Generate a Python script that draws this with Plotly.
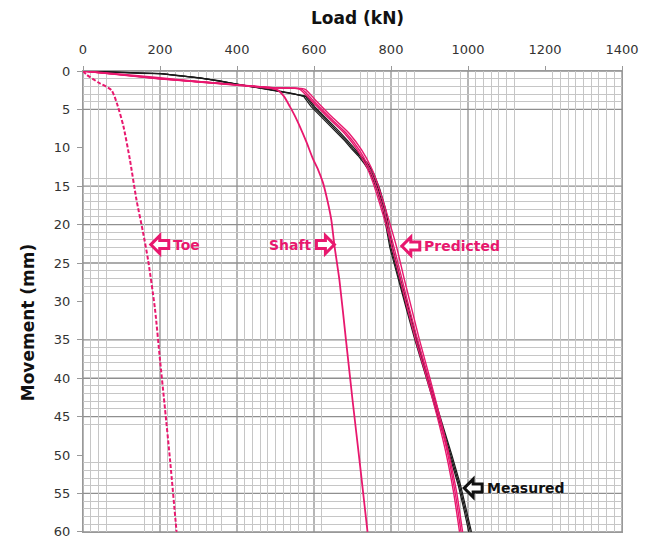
import plotly.graph_objects as go

# ---------------- data ----------------
toe_load = [0, 10, 40, 74, 88, 105, 122, 139, 156, 169, 187, 200, 213, 226, 243]
toe_mm = [0, 0.5, 1.5, 2.5, 4.2, 7.2, 11.6, 16.8, 21, 24.6, 31, 37.6, 44, 50.6, 60]

shaft_load = [0, 100, 200, 300, 400, 502, 522, 537, 550, 563, 580, 597, 611, 623, 635, 645, 653, 666, 683, 700, 720, 739]
shaft_mm = [0, 0.45, 0.9, 1.4, 1.85, 2.4, 3.3, 4.6, 5.8, 7.2, 9.2, 11.4, 12.9, 14.5, 16.9, 19.4, 22.7, 27.2, 35, 42.8, 51.5, 60]

pred_mm = [0, 0.5, 1.0, 1.4, 1.8, 2.2, 2.35, 3.8, 6.0, 8.1, 10.3, 12.5, 14.5, 17, 20, 23, 27, 31, 35, 40, 45, 50, 55, 60]
pred1_load = [0, 100, 200, 300, 400, 500, 568, 597, 640, 684, 718, 742, 758, 774, 792, 808, 828, 848, 869, 897, 924, 948, 967, 982]
pred2_load = [0, 95, 195, 295, 395, 495, 576, 604, 647, 691, 724, 748, 764, 780, 798, 815, 834, 854, 874, 901, 927, 951, 971, 986]
pred3_load = [0, 104, 204, 304, 404, 504, 562, 592, 635, 679, 713, 737, 753, 769, 787, 803, 823, 843, 864, 893, 920, 944, 963, 978]

meas_mm = [0, 0.1, 0.2, 0.3, 0.35, 0.6, 0.9, 1.25, 1.7, 2.1, 2.5, 2.9, 3.3, 4.6, 5.7, 6.8, 7.9, 9.1, 10.1, 11.0, 12.1, 13.4, 15.4, 18, 23, 27, 31, 35, 40, 45, 50, 54, 57, 60]
meas1_load = [0, 48, 102, 148, 203, 247, 302, 348, 403, 447, 493, 538, 578, 597, 619, 640, 662, 684, 701, 718, 736, 752, 767, 782, 800, 821, 842, 865, 894, 925, 955, 978, 992, 1006]
meas2_load = [0, 52, 97, 153, 198, 253, 297, 353, 398, 452, 497, 543, 573, 592, 614, 636, 657, 680, 697, 714, 731, 748, 763, 779, 797, 818, 840, 862, 891, 922, 952, 975, 989, 1002]
meas3_load = [0, 45, 105, 145, 206, 244, 305, 345, 406, 444, 490, 535, 582, 601, 623, 644, 666, 688, 705, 722, 740, 756, 771, 786, 804, 824, 845, 868, 897, 928, 958, 981, 995, 1009]

x_ticks = [0, 200, 400, 600, 800, 1000, 1200, 1400]
y_ticks = [0, 5, 10, 15, 20, 25, 30, 35, 40, 45, 50, 55, 60]

# grid lines visible in the (scanned) reference
x_major_grid = [0, 200, 400, 600, 800, 1000, 1400]
x_minor_grid = [20, 40, 60, 160, 180, 220, 240, 260, 280, 300, 320, 340, 360,
                420, 440, 460, 480, 500, 520, 540, 560, 580, 620, 720, 740, 760, 780,
                820, 840, 860, 980, 1020, 1040, 1060, 1080, 1100, 1120,
                1220, 1240, 1260, 1280, 1300, 1320, 1340, 1360, 1380]
y_major_grid = [0, 5, 15, 20, 25, 35, 40, 45, 55, 60]
y_minor_grid = [1, 2, 3, 4, 14, 16, 17, 18, 19, 21, 22, 23, 24, 26, 27, 28, 29,
                36, 37, 38, 39, 41, 42, 43, 44, 46, 51, 52, 53, 54, 56, 57, 58, 59]

PINK = "#E8186E"
BLACK = "#1a1a1a"

fig = go.Figure()

for ld in (meas1_load, meas2_load, meas3_load):
    fig.add_trace(go.Scatter(x=ld, y=meas_mm, mode="lines",
                             line=dict(color=BLACK, width=1.2), showlegend=False))
for ld in (pred1_load, pred2_load, pred3_load):
    fig.add_trace(go.Scatter(x=ld, y=pred_mm, mode="lines",
                             line=dict(color=PINK, width=1.4, shape="spline", smoothing=0.5),
                             showlegend=False))
fig.add_trace(go.Scatter(x=shaft_load, y=shaft_mm, mode="lines",
                         line=dict(color=PINK, width=1.8, shape="spline", smoothing=0.6),
                         showlegend=False))
fig.add_trace(go.Scatter(x=toe_load, y=toe_mm, mode="lines",
                         line=dict(color=PINK, width=2, dash="4px,2px", shape="spline", smoothing=0.6),
                         showlegend=False))

shapes = []
for v in x_major_grid:
    shapes.append(dict(type="line", xref="x", yref="paper", x0=v, x1=v, y0=0, y1=1,
                       line=dict(color="#8f8f8f", width=1.3), layer="below"))
for v in y_major_grid:
    shapes.append(dict(type="line", xref="paper", yref="y", x0=0, x1=1, y0=v, y1=v,
                       line=dict(color="#8f8f8f", width=1.3), layer="below"))

# hollow block arrows (pixel-sized, anchored at their tip)
LEFT_PATH = "M0,0 L9,9 L9,4 L18,4 L18,-4 L9,-4 L9,-9 Z"
RIGHT_PATH = "M0,0 L-9,9 L-9,4 L-18,4 L-18,-4 L-9,-4 L-9,-9 Z"


def arrow(x, y, path, color):
    return dict(type="path", xref="x", yref="y", xsizemode="pixel", ysizemode="pixel",
                xanchor=x, yanchor=y, path=path, fillcolor="white",
                line=dict(color=color, width=3), layer="above")


shapes += [
    arrow(176, 22.6, LEFT_PATH, PINK),
    arrow(653, 22.6, RIGHT_PATH, PINK),
    arrow(828, 22.8, LEFT_PATH, PINK),
    arrow(990, 54.3, LEFT_PATH, "#111"),
]


def label(x, y, text, anchor, color):
    return dict(x=x, y=y, xref="x", yref="y", text=text, showarrow=False,
                xanchor=anchor, yanchor="middle",
                font=dict(family="DejaVu Sans", size=14, color=color))


annotations = [
    label(229, 22.6, "<b>Toe</b>", "left", PINK),
    label(599, 22.6, "<b>Shaft</b>", "right", PINK),
    label(880, 22.8, "<b>Predicted</b>", "left", PINK),
    label(1043, 54.3, "<b>Measured</b>", "left", "#111"),
    # axis titles
    dict(x=0.51, y=1.115, xref="paper", yref="paper", text="<b>Load (kN)</b>", showarrow=False,
         xanchor="center", yanchor="middle", font=dict(family="DejaVu Sans", size=17, color="#111")),
    dict(x=-0.102, y=0.455, xref="paper", yref="paper", text="<b>Movement (mm)</b>", showarrow=False,
         textangle=-90, xanchor="center", yanchor="middle",
         font=dict(family="DejaVu Sans", size=17, color="#111")),
]

fig.update_layout(
    width=652, height=538,
    margin=dict(l=83, r=30, t=71, b=6, autoexpand=False),
    paper_bgcolor="white", plot_bgcolor="white",
    font=dict(family="DejaVu Sans", color="#333"),
    shapes=shapes, annotations=annotations,
    xaxis=dict(
        side="top", range=[0, 1400], tickvals=x_ticks, showgrid=False, zeroline=False,
        showline=True, mirror=True, linecolor="#999", linewidth=1, automargin=False,
        ticks="outside", ticklen=4, tickcolor="#999", tickfont=dict(size=13, color="#333"),
        ticklabelstandoff=7, ticklabeloverflow="allow",
        minor=dict(tickvals=x_minor_grid, showgrid=True, gridcolor="#c6c6c6", gridwidth=1, ticks=""),
    ),
    yaxis=dict(
        range=[60.02, 0], tickvals=y_ticks, showgrid=False, zeroline=False,
        showline=True, mirror=True, linecolor="#999", linewidth=1, automargin=False,
        ticks="outside", ticklen=5, tickcolor="#999", tickfont=dict(size=13, color="#333"),
        ticklabelstandoff=4, ticklabeloverflow="allow",
        minor=dict(tickvals=y_minor_grid, showgrid=True, gridcolor="#c6c6c6", gridwidth=1, ticks=""),
    ),
)

fig.write_html("out.html")
